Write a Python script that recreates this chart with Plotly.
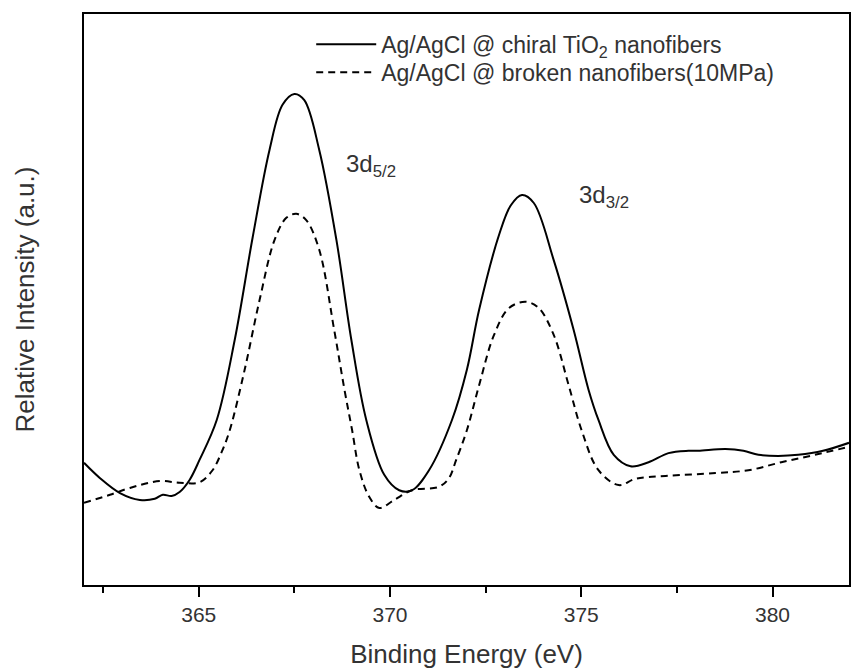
import plotly.graph_objects as go

# Solid curve: Ag/AgCl @ chiral TiO2 nanofibers
x_chiral = [362.0, 362.42, 362.94, 363.46, 363.85, 364.06, 364.29, 364.50, 364.76, 365.02,
            365.47, 365.94, 366.41, 366.85, 367.19, 367.50, 367.76, 368.15, 368.60, 368.99,
            369.38, 369.85, 370.24, 370.58, 371.02, 371.62, 372.01, 372.33, 372.85, 373.16,
            373.45, 373.76, 374.28, 374.80, 375.19, 375.45, 375.85, 376.29, 376.76, 377.28,
            377.80, 378.06, 378.77, 379.24, 379.63, 380.15, 380.67, 381.32, 382.0]
y_chiral = [21.4, 18.7, 16.1, 14.9, 15.1, 15.8, 15.6, 16.3, 18.4, 21.9,
            28.9, 42.9, 60.9, 76.2, 84.1, 86.0, 84.9, 76.2, 60.4, 42.9,
            28.9, 19.3, 16.6, 16.6, 20.1, 28.9, 37.7, 48.2, 61.3, 66.5,
            68.3, 66.9, 56.9, 44.7, 34.2, 28.9, 22.8, 20.8, 21.5, 23.1,
            23.5, 23.5, 23.8, 23.5, 22.8, 22.6, 22.8, 23.5, 24.9]

# Dashed curve: Ag/AgCl @ broken nanofibers (10MPa)
x_broken = [362.0, 362.68, 363.20, 363.98, 364.50, 365.02, 365.36, 365.60, 365.81, 366.20,
            366.59, 366.98, 367.29, 367.55, 367.81, 368.15, 368.54, 368.81, 369.01, 369.20,
            369.46, 369.72, 370.11, 370.58, 371.28, 371.54, 371.73, 372.01, 372.33, 372.72,
            373.11, 373.55, 373.89, 374.28, 374.67, 375.01, 375.45, 375.98, 376.42, 377.20,
            378.51, 379.37, 380.23, 381.11, 382.0]
y_broken = [14.4, 15.8, 17.0, 18.2, 17.9, 18.0, 20.1, 23.3, 27.1, 37.7,
            49.9, 60.4, 64.3, 65.0, 63.9, 58.7, 44.7, 34.2, 27.1, 20.1,
            15.4, 13.5, 14.9, 16.6, 17.2, 18.7, 21.9, 27.1, 35.0, 43.8,
            48.5, 49.6, 48.5, 43.8, 35.0, 27.1, 20.1, 17.5, 18.6, 19.1,
            19.6, 20.1, 21.5, 22.8, 24.2]

tick_vals = [365, 370, 375, 380]
tick_text = ["365", "370", "375", "380"]
minor_vals = [362.5, 367.5, 372.5, 377.5]

peak_labels = ["3d<sub>5/2</sub>", "3d<sub>3/2</sub>"]
peak_x = [368.8, 374.88]
peak_y = [73.5, 68.1]

FONT = "Liberation Sans, Arial, sans-serif"
TXT = "#333333"

fig = go.Figure()
fig.add_trace(go.Scatter(
    x=x_chiral, y=y_chiral, mode="lines", line_shape="spline",
    line=dict(color="black", width=2), legend="legend",
    name="Ag/AgCl @ chiral TiO<sub>2</sub> nanofibers"))
fig.add_trace(go.Scatter(
    x=x_broken, y=y_broken, mode="lines", line_shape="spline",
    line=dict(color="black", width=2, dash="7px,5px"), legend="legend2",
    name="Ag/AgCl @ broken nanofibers(10MPa)"))

for t, px, py in zip(peak_labels, peak_x, peak_y):
    fig.add_annotation(x=px, y=py, text=t, showarrow=False, xanchor="left",
                       yanchor="middle", font=dict(family=FONT, size=24, color=TXT))

leg_common = dict(xanchor="left", yanchor="middle", bgcolor="rgba(0,0,0,0)",
                  font=dict(family=FONT, size=23, color=TXT), borderwidth=0,
                  itemwidth=60)

fig.update_layout(
    width=853, height=669,
    margin=dict(l=84, r=2, t=14, b=84),
    paper_bgcolor="white", plot_bgcolor="white",
    font=dict(family=FONT, size=22, color=TXT),
    showlegend=True,
    legend=dict(x=0.297, y=0.947, **leg_common),
    legend2=dict(x=0.297, y=0.898, **leg_common),
    xaxis=dict(range=[362, 382], tickvals=tick_vals, ticktext=tick_text,
               ticks="outside", ticklen=10, tickwidth=2, tickcolor="black",
               minor=dict(tickvals=minor_vals, ticks="outside",
                          ticklen=6, tickwidth=2, tickcolor="black"),
               showline=True, linecolor="black", linewidth=2, mirror=True,
               showgrid=False, zeroline=False,
               tickfont=dict(family=FONT, size=21, color=TXT),
               title=dict(text="Binding Energy (eV)", standoff=20,
                          font=dict(family=FONT, size=26, color=TXT))),
    yaxis=dict(range=[0, 100], showticklabels=False, ticks="",
               showline=True, linecolor="black", linewidth=2, mirror=True,
               showgrid=False, zeroline=False,
               title=dict(text="Relative Intensity (a.u.)", standoff=40,
                          font=dict(family=FONT, size=26, color=TXT))),
)

fig.write_html("out.html")
